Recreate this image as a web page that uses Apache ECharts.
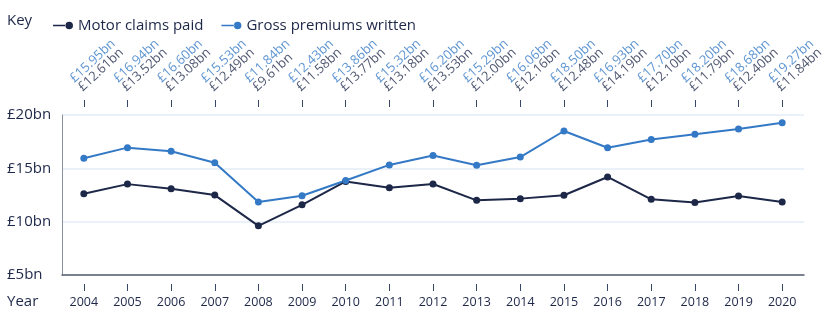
<!DOCTYPE html>
<html>
<head>
<meta charset="utf-8">
<script src="https://cdn.jsdelivr.net/npm/echarts@6/dist/echarts.min.js"></script>
<style>
  html, body { margin: 0; padding: 0; background: #fff; }
  #chart { width: 830px; height: 332px; }
</style>
</head>
<body>
<div id="chart"></div>
<script>
// UK motor insurance: claims paid vs gross premiums written (£bn)
const years = ['2004','2005','2006','2007','2008','2009','2010','2011','2012','2013','2014','2015','2016','2017','2018','2019','2020'];
const claimsPaid = [12.61, 13.52, 13.08, 12.49, 9.61, 11.58, 13.77, 13.18, 13.53, 12.00, 12.16, 12.48, 14.19, 12.10, 11.79, 12.40, 11.84];
const premiumsWritten = [15.95, 16.94, 16.60, 15.53, 11.84, 12.43, 13.86, 15.32, 16.20, 15.29, 16.06, 18.50, 16.93, 17.70, 18.20, 18.68, 19.27];
const yTicks = [5, 10, 15, 20];

const DARK = '#1d2748';
const BLUE = '#3479c6';
const FONT = 'Open Sans';

const fmt = v => '£' + v.toFixed(2) + 'bn';
// legend marker: short line ending in a dot
const KEY_ICON = 'path://M0,3.4h13v1.6h-13z M12.5,4.2a3.8,3.8 0 1,0 7.6,0a3.8,3.8 0 1,0 -7.6,0z';
const yTop = yTicks[yTicks.length - 1];

const chart = echarts.init(document.getElementById('chart'));
chart.setOption({
  animation: false,
  textStyle: { fontFamily: FONT },
  legend: {
    left: 48, top: 13,
    itemWidth: 20, itemHeight: 8, itemGap: 18,
    textStyle: { color: DARK, fontSize: 15, fontFamily: FONT },
    data: [
      { name: 'Motor claims paid', icon: KEY_ICON },
      { name: 'Gross premiums written', icon: KEY_ICON }
    ]
  },
  graphic: [
    { type: 'text', left: 7, top: 13, style: { text: 'Key', fill: DARK, fontSize: 15, fontFamily: FONT } },
    { type: 'text', left: 7, top: 294, style: { text: 'Year', fill: DARK, fontSize: 15, fontFamily: FONT } }
  ],
  grid: { left: 62, top: 115, width: 742, height: 160 },
  xAxis: [
    {
      type: 'category', data: years, position: 'bottom', offset: 9,
      axisLine: { show: false },
      axisTick: { show: true, alignWithLabel: true, length: 7, lineStyle: { color: '#3a4466' } },
      axisLabel: { color: DARK, fontSize: 12.5, margin: 12, fontFamily: FONT }
    },
    {
      type: 'category', data: years, position: 'top', offset: 8,
      axisLine: { show: false },
      axisTick: { show: true, alignWithLabel: true, length: 7, lineStyle: { color: '#3a4466' } },
      axisLabel: { show: false }
    },
    {
      type: 'category', data: years, position: 'bottom', offset: 0,
      axisLine: { show: true, lineStyle: { color: '#555c70', width: 1.5 } },
      axisTick: { show: false }, axisLabel: { show: false }
    }
  ],
  yAxis: {
    type: 'value', min: yTicks[0], max: yTop, interval: 5,
    axisLine: { show: true, lineStyle: { color: '#8a90a0', width: 1 } },
    axisTick: { show: false },
    splitLine: { show: true, lineStyle: { color: '#e4edf6', width: 1.5 } },
    axisLabel: { color: DARK, fontSize: 15, align: 'left', margin: 55, fontFamily: FONT, formatter: v => '£' + v + 'bn' }
  },
  series: [
    {
      name: 'Motor claims paid', type: 'line', data: claimsPaid,
      color: DARK, symbol: 'circle', symbolSize: 7,
      lineStyle: { width: 2, color: DARK }, itemStyle: { color: DARK }
    },
    {
      name: 'Gross premiums written', type: 'line', data: premiumsWritten,
      color: BLUE, symbol: 'circle', symbolSize: 7,
      lineStyle: { width: 2, color: BLUE }, itemStyle: { color: BLUE }
    },
    {
      // value captions above each year, anchored at the top of the plot
      name: 'values', type: 'scatter', clip: false, silent: true,
      symbolSize: 1, itemStyle: { color: 'rgba(255,255,255,0)' },
      data: years.map((y, i) => [i, yTop]),
      label: {
        show: true, position: [1, -21], rotate: 43,
        align: 'left', verticalAlign: 'bottom',
        formatter: p => '{b|' + fmt(premiumsWritten[p.dataIndex]) + '}\n{d|' + fmt(claimsPaid[p.dataIndex]) + '}',
        rich: {
          b: { color: BLUE, fontSize: 13, lineHeight: 12, fontFamily: FONT },
          d: { color: DARK, fontSize: 13, lineHeight: 12, fontFamily: FONT }
        }
      }
    }
  ]
});
</script>
</body>
</html>
